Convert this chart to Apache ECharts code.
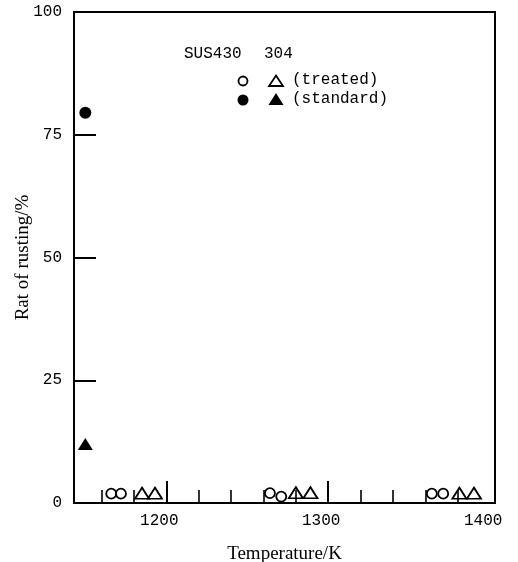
<!DOCTYPE html>
<html>
<head>
<meta charset="utf-8">
<script src="https://cdn.jsdelivr.net/npm/echarts@6/dist/echarts.min.js"></script>
<style>
  html, body { margin: 0; padding: 0; background: #fff; }
  #chart { width: 518px; height: 562px; }
</style>
</head>
<body>
<div id="chart"></div>
<script>
// Temperature axis
const xMin = 1143;
const xMax = 1403;
const xMajorTicks = [1200, 1300];
const xMinorTicks = [1160, 1180, 1220, 1240, 1260, 1280, 1320, 1340, 1360, 1380];
const xLabels = [1200, 1300, 1400];

// Rate of rusting axis
const yMin = 0;
const yMax = 100;
const yStep = 25;

// Standard specimens
const std430 = [[1150, 79.5]];
const std304 = [[1150, 12]];

// Treated specimens (SUS430 circles, 304 triangles)
const treated430X = [1166, 1172, 1264, 1271, 1364, 1371];
const treated430Y = [1.9, 1.9, 2.0, 1.3, 1.9, 1.9];
const treated304X = [1185, 1193, 1280, 1289, 1381, 1390];
const treated304Y = [2.0, 2.0, 2.1, 2.1, 2.0, 2.0];

const pairs = (xs, ys) => xs.map((x, i) => [x, ys[i]]);

const MONO = '"Liberation Mono", "DejaVu Sans Mono", monospace';
const SERIF = '"Liberation Serif", "DejaVu Serif", serif';

const chart = echarts.init(document.getElementById('chart'), null, { renderer: 'canvas' });

const hollow = { color: 'rgba(0,0,0,0)', borderColor: '#000', borderWidth: 1.8, opacity: 1 };
const solid = { color: '#000', opacity: 1 };

chart.setOption({
  animation: false,
  backgroundColor: '#fff',
  grid: {
    left: 74, right: 23, top: 12, bottom: 59,
    outerBoundsMode: 'none', containLabel: false,
    show: true, borderColor: '#000', borderWidth: 2, backgroundColor: 'transparent'
  },
  xAxis: [
    {
      type: 'value', min: xMin, max: xMax, position: 'bottom',
      name: 'Temperature/K', nameLocation: 'middle', nameGap: 42, nameMoveOverlap: false,
      nameTextStyle: { fontFamily: SERIF, fontSize: 19, color: '#000' },
      axisLine: { show: true, lineStyle: { color: '#000', width: 2 } },
      axisTick: { show: true, inside: true, length: 22, customValues: xMajorTicks,
                  lineStyle: { color: '#000', width: 2 } },
      axisLabel: { customValues: xLabels, margin: 10, fontFamily: MONO, fontSize: 16,
                   color: '#000', padding: [0, 14, 0, 0],
                   formatter: v => String(v) },
      splitLine: { show: false }
    },
    {
      type: 'value', min: xMin, max: xMax, position: 'bottom', gridIndex: 0,
      axisLine: { show: false },
      axisTick: { show: true, inside: true, length: 13, customValues: xMinorTicks,
                  lineStyle: { color: '#000', width: 1.6 } },
      axisLabel: { show: false },
      splitLine: { show: false }
    }
  ],
  yAxis: {
    type: 'value', min: yMin, max: yMax, interval: yStep,
    name: 'Rat of rusting/%', nameLocation: 'middle', nameGap: 41, nameRotate: 90,
    nameMoveOverlap: false,
    nameTextStyle: { fontFamily: SERIF, fontSize: 19, color: '#000' },
    axisLine: { show: true, lineStyle: { color: '#000', width: 2 } },
    axisTick: { show: true, inside: true, length: 22, lineStyle: { color: '#000', width: 2 } },
    axisLabel: { margin: 12, fontFamily: MONO, fontSize: 16, color: '#000',
                 formatter: v => String(v) },
    splitLine: { show: false }
  },
  series: [
    { name: 'SUS430 standard', type: 'scatter', data: std430, symbol: 'circle',
      symbolSize: 12, itemStyle: solid, z: 5 },
    { name: '304 standard', type: 'scatter', data: std304, symbol: 'triangle',
      symbolSize: [15, 12], itemStyle: solid, z: 5 },
    { name: 'SUS430 treated', type: 'scatter', data: pairs(treated430X, treated430Y),
      symbol: 'circle', symbolSize: 10, itemStyle: hollow, z: 5 },
    { name: '304 treated', type: 'scatter', data: pairs(treated304X, treated304Y),
      symbol: 'triangle', symbolSize: [14, 11], itemStyle: hollow, z: 5 }
  ],
  graphic: [
    { type: 'text', left: 184, top: 46,
      style: { text: 'SUS430', font: '16px ' + MONO, fill: '#000' } },
    { type: 'text', left: 264, top: 46,
      style: { text: '304', font: '16px ' + MONO, fill: '#000' } },
    { type: 'circle', shape: { cx: 243, cy: 81, r: 4.5 },
      style: { fill: 'none', stroke: '#000', lineWidth: 1.8 } },
    { type: 'polygon', shape: { points: [[276, 75.5], [283, 86], [269, 86]] },
      style: { fill: 'none', stroke: '#000', lineWidth: 1.8 } },
    { type: 'text', left: 292, top: 72,
      style: { text: '(treated)', font: '16px ' + MONO, fill: '#000' } },
    { type: 'circle', shape: { cx: 243, cy: 100, r: 5.5 },
      style: { fill: '#000' } },
    { type: 'polygon', shape: { points: [[276, 93], [283.5, 105], [268.5, 105]] },
      style: { fill: '#000' } },
    { type: 'text', left: 292, top: 91,
      style: { text: '(standard)', font: '16px ' + MONO, fill: '#000' } }
  ]
});
</script>
</body>
</html>
